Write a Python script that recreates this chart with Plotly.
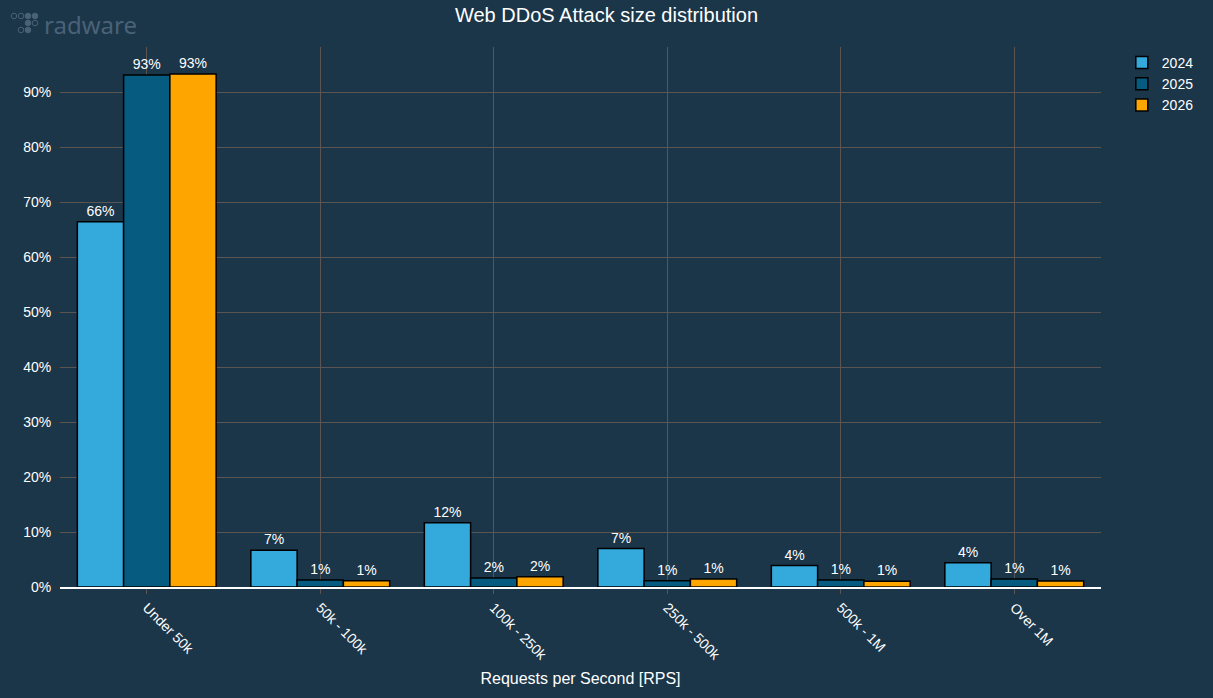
import plotly.graph_objects as go

categories = ["Under 50k", "50k - 100k", "100k - 250k", "250k - 500k", "500k - 1M", "Over 1M"]
years = ["2024", "2025", "2026"]
values_2024 = [66.4, 6.7, 11.7, 7.0, 3.9, 4.4]
values_2025 = [93.1, 1.27, 1.64, 1.15, 1.27, 1.45]
values_2026 = [93.3, 1.15, 1.88, 1.45, 1.03, 1.09]
colors = ["#33aadb", "#055c80", "#ffa500"]
y_ticks = [0, 10, 20, 30, 40, 50, 60, 70, 80, 90]
y_tick_labels = [f"{v}%" for v in y_ticks]

bg = "#1b3549"
fnt = "Liberation Sans, Arial, sans-serif"

fig = go.Figure()
for name, vals, col in zip(years, [values_2024, values_2025, values_2026], colors):
    fig.add_trace(go.Bar(
        x=categories, y=vals, name=name,
        marker=dict(color=col, line=dict(color="#000000", width=1.5)),
        text=[f"{round(v)}%" for v in vals],
        textposition="outside", cliponaxis=False,
        textfont=dict(color="#ffffff", size=14, family=fnt),
    ))

fig.update_layout(
    width=1213, height=698,
    paper_bgcolor=bg, plot_bgcolor=bg,
    font=dict(family=fnt, color="#ffffff", size=14),
    title=dict(text="Web DDoS Attack size distribution", x=0.5, xanchor="center",
               y=0.978, yanchor="middle", font=dict(size=20, color="#ffffff", family=fnt)),
    margin=dict(l=60, r=112, t=47, b=111),
    barmode="group", bargap=0.2, bargroupgap=0,
    legend=dict(x=1.02, xanchor="left", y=1.0, yanchor="top", xref="paper",
                font=dict(size=14, color="#ffffff"), bgcolor="rgba(0,0,0,0)",
                tracegroupgap=4),
    xaxis=dict(
        title=dict(text="Requests per Second [RPS]", font=dict(size=16, color="#ffffff"), standoff=10),
        tickangle=45, showgrid=True, gridcolor="#5a5550", gridwidth=1,
        ticks="outside", ticklen=5, tickcolor="#5a5550",
        showline=True, linecolor="#ffffff", linewidth=2,
        tickfont=dict(size=14, color="#ffffff"),
    ),
    yaxis=dict(
        range=[0, 98.2], tickvals=y_ticks, ticktext=y_tick_labels,
        showgrid=True, gridcolor="#5a5550", gridwidth=1,
        ticks="outside", ticklen=5, tickcolor="#333333",
        zeroline=False, tickfont=dict(size=14, color="#ffffff"),
    ),
)

# radware logo
logo_col = "#4a6277"
fig.add_annotation(text="radware", xref="paper", yref="paper", x=-0.0175, y=1.041,
                   xanchor="left", yanchor="middle", showarrow=False,
                   font=dict(size=24, color=logo_col, family="Noto Sans, sans-serif"))
dot_pos = [(-46, 31, False), (-39, 31, False), (-32, 31, True), (-25, 31, True),
           (-32, 24, True), (-25, 24, False), (-39, 17, False), (-32, 17, True)]
for dx, dy, filled in dot_pos:
    fig.add_shape(type="circle", xref="paper", yref="paper", xsizemode="pixel", ysizemode="pixel",
                  xanchor=0.0, yanchor=1.0, x0=dx - 2.8, x1=dx + 2.8, y0=dy - 2.8, y1=dy + 2.8,
                  line=dict(color=logo_col, width=1), fillcolor=logo_col if filled else bg)

fig.write_html("out.html", config={"displayModeBar": False},
               post_script="document.body.style.margin='0';document.body.style.background='%s';" % bg)
